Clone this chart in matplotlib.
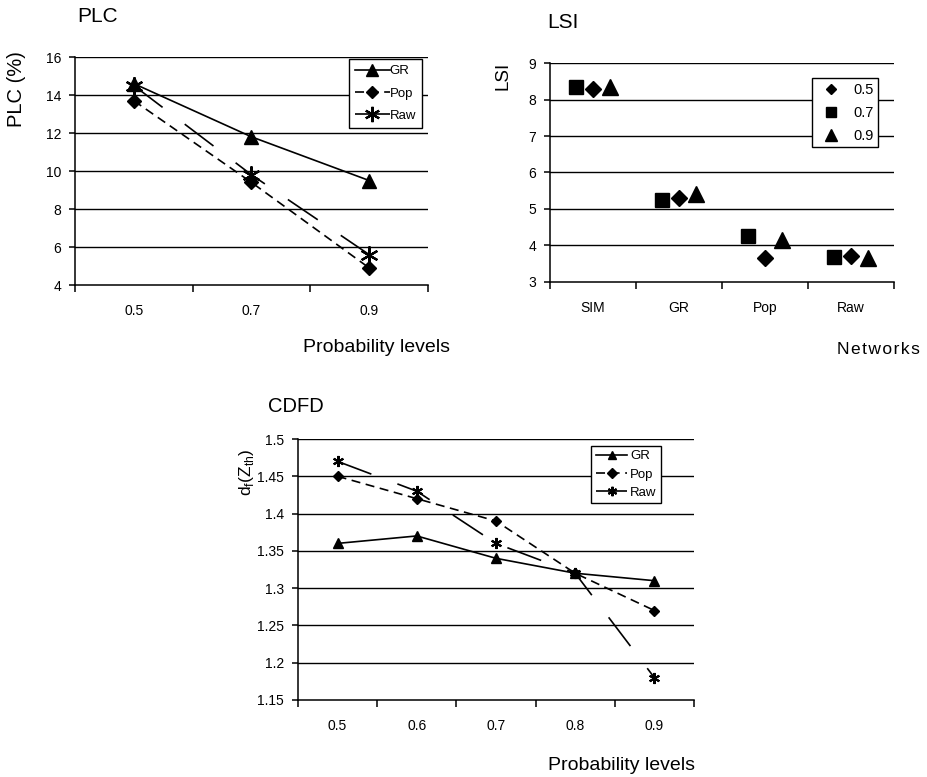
import matplotlib
matplotlib.use('Agg')
import matplotlib.pyplot as plt

plt.rcParams['font.family'] = ['Liberation Sans', 'DejaVu Sans']
plt.rcParams['lines.scale_dashes'] = False

# %% data
plc_levels = ['0.5', '0.7', '0.9']
plc_gr = [14.6, 11.8, 9.5]
plc_pop = [13.7, 9.4, 4.9]
plc_raw = [14.5, 9.8, 5.6]

lsi_networks = ['SIM', 'GR', 'Pop', 'Raw']
lsi_05 = [8.3, 5.3, 3.65, 3.7]
lsi_07 = [8.35, 5.25, 4.25, 3.68]
lsi_09 = [8.35, 5.4, 4.15, 3.65]

cdfd_levels = ['0.5', '0.6', '0.7', '0.8', '0.9']
cdfd_gr = [1.36, 1.37, 1.34, 1.32, 1.31]
cdfd_pop = [1.45, 1.42, 1.39, 1.32, 1.27]
cdfd_raw = [1.47, 1.43, 1.36, 1.32, 1.18]

STAR = (6, 2, 0)
POP_DASH = (0, (6.5, 4.0))
RAW_DASH = (0, (26, 20))


def style_axes(ax, n, yticks, ylabels):
    ax.set_xlim(-0.5, n - 0.5)
    ax.set_ylim(yticks[0], yticks[-1])
    ax.spines['top'].set_visible(False)
    ax.spines['right'].set_visible(False)
    for s in ['left', 'bottom']:
        ax.spines[s].set_linewidth(1.1)
        ax.spines[s].set_color('black')
    ax.set_yticks(yticks)
    ax.set_yticklabels(ylabels, fontsize=10)
    for y in yticks[1:]:
        ax.axhline(y, color='black', lw=1.0, zorder=1)
    # category boundaries as major ticks, labels as minor
    ax.set_xticks([i - 0.5 for i in range(n + 1)])
    ax.set_xticklabels([''] * (n + 1))
    ax.tick_params(axis='x', which='major', direction='out', length=5, width=1.1)
    ax.tick_params(axis='y', direction='out', length=4, width=1.1, pad=6)
    ax.set_xticks(range(n), minor=True)
    ax.tick_params(axis='x', which='minor', length=0, pad=14, labelsize=10)


def legend(ax, **kw):
    lg = ax.legend(frameon=True, fancybox=False, framealpha=1, edgecolor='black',
                   borderaxespad=0, **kw)
    lg.get_frame().set_linewidth(1.0)
    return lg


fig = plt.figure(figsize=(9.28, 7.77), dpi=100)

# %% PLC
ax1 = fig.add_axes([0.0808, 0.6332, 0.3804, 0.2934])
x = range(len(plc_levels))
ax1.plot(x, plc_gr, '-', color='black', lw=1.2, marker='^', ms=10, label='GR', zorder=3)
ax1.plot(x, plc_pop, color='black', lw=1.2, ls=POP_DASH, marker='D', ms=7, label='Pop', zorder=3)
ax1.plot(x, plc_raw, color='black', lw=1.2, ls=RAW_DASH, marker=STAR, ms=13, mew=1.6,
         label='Raw', zorder=3)
style_axes(ax1, 3, [4, 6, 8, 10, 12, 14, 16], ['4', '6', '8', '10', '12', '14', '16'])
ax1.set_xticklabels(plc_levels, minor=True)
legend(ax1, loc='upper right', bbox_to_anchor=(0.983, 0.99), fontsize=9.5,
       handlelength=2.6, labelspacing=0.75, handletextpad=0.0, borderpad=0.45,
       markerscale=0.85)
fig.text(77 / 928, 1 - 17 / 777, 'PLC', fontsize=15, va='center', ha='left')
fig.text(17 / 928, 1 - 89 / 777, 'PLC (%)', fontsize=14.5, rotation=90, va='center', ha='center')
fig.text(450 / 928, 1 - 347 / 777, 'Probability levels', fontsize=14, va='center', ha='right')

# %% LSI
ax2 = fig.add_axes([0.5927, 0.6371, 0.3707, 0.2818])
x = range(len(lsi_networks))
ax2.plot([i + 0.0 for i in x], lsi_05, 'D', color='black', ms=8, label='0.5', zorder=3)
ax2.plot([i - 0.2 for i in x], lsi_07, 's', color='black', ms=10, label='0.7', zorder=3)
ax2.plot([i + 0.2 for i in x], lsi_09, '^', color='black', ms=12, label='0.9', zorder=3)
style_axes(ax2, 4, [3, 4, 5, 6, 7, 8, 9], ['3', '4', '5', '6', '7', '8', '9'])
ax2.set_xticklabels(lsi_networks, minor=True)
legend(ax2, loc='upper right', bbox_to_anchor=(0.953, 0.93), fontsize=10.5,
       handlelength=2.0, labelspacing=0.62, handletextpad=0.5, borderpad=0.3,
       markerscale=0.7)
fig.text(547 / 928, 1 - 22 / 777, 'LSI', fontsize=15, va='center', ha='left')
fig.text(503 / 928, 1 - 76 / 777, 'LSI', fontsize=13.5, rotation=90, va='center', ha='center')
fig.text(920 / 928, 1 - 349 / 777, '\u200a'.join('Networks'), fontsize=12.5,
         va='center', ha='right')

# %% CDFD
ax3 = fig.add_axes([0.3211, 0.0991, 0.4267, 0.3359])
x = range(len(cdfd_levels))
ax3.plot(x, cdfd_gr, '-', color='black', lw=1.2, marker='^', ms=7, label='GR', zorder=3)
ax3.plot(x, cdfd_pop, color='black', lw=1.2, ls=POP_DASH, marker='D', ms=5.5, label='Pop', zorder=3)
ax3.plot(x, cdfd_raw, color='black', lw=1.2, ls=RAW_DASH, marker=STAR, ms=8, mew=1.5,
         label='Raw', zorder=3)
yt = [1.15, 1.2, 1.25, 1.3, 1.35, 1.4, 1.45, 1.5]
style_axes(ax3, 5, yt, [f'{v:g}' for v in yt])
ax3.set_xticklabels(cdfd_levels, minor=True)
legend(ax3, loc='upper right', bbox_to_anchor=(0.917, 0.975), fontsize=9.5,
       handlelength=2.4, labelspacing=0.45, handletextpad=0.2, borderpad=0.35,
       markerscale=0.85)
fig.text(268 / 928, 1 - 407 / 777, 'CDFD', fontsize=14.5, va='center', ha='left')
fig.text(247 / 928, 1 - 472 / 777, r'd$_\mathregular{f}$(Z$_\mathregular{th}$)', fontsize=12.5,
         rotation=90, va='center', ha='center')
fig.text(695 / 928, 1 - 765 / 777, 'Probability levels', fontsize=14, va='center', ha='right')

plt.savefig('out.png', dpi=100)
